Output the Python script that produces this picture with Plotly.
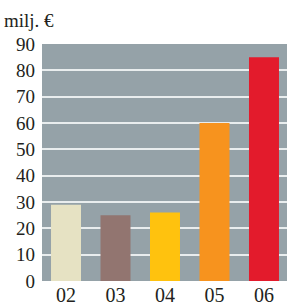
import plotly.graph_objects as go

categories = ["02", "03", "04", "05", "06"]
values = [29, 25, 26, 60, 85]
colors = ["#E6E2C3", "#927570", "#FFC20E", "#F7931E", "#E31B2C"]
y_ticks = [0, 10, 20, 30, 40, 50, 60, 70, 80, 90]

font = "Liberation Serif"

fig = go.Figure(go.Bar(
    x=list(range(len(categories))), y=values,
    marker=dict(color=colors, line=dict(width=0)),
    width=0.606,
))
fig.update_layout(
    width=287, height=306,
    margin=dict(l=42, r=0, t=44, b=25),
    plot_bgcolor="#95A2A8", paper_bgcolor="white",
    showlegend=False,
    font=dict(family=font, size=19, color="#231F20"),
    title=dict(text="milj. €", x=4/287, xanchor="left", y=1 - 20/306, yanchor="middle",
               font=dict(family=font, size=19, color="#231F20")),
    xaxis=dict(range=[-0.485, 4.465], tickvals=list(range(len(categories))),
               ticktext=categories, showgrid=False, zeroline=False,
               ticks="", ticklen=0, tickfont=dict(family=font, size=20)),
    yaxis=dict(range=[0, 90], tickvals=y_ticks, showgrid=True,
               gridcolor="#E9EDEE", gridwidth=2, zeroline=False,
               ticks="", tickfont=dict(family=font, size=19), ticklabelstandoff=6),
)
fig.write_html("out.html", config={"displayModeBar": False},
               post_script="document.body.style.margin='0';document.body.style.overflow='hidden';")
